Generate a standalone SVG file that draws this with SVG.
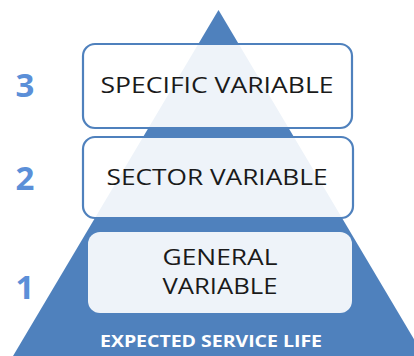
<svg xmlns="http://www.w3.org/2000/svg" width="414" height="356" viewBox="0 0 414 356">
<style>
.box{fill:#ffffff;fill-opacity:0.9;stroke:#4f81bd;stroke-width:2.2}
.box1{fill:#ffffff;fill-opacity:0.9;stroke:none}
.lbl{font-family:"Open Sans","Liberation Sans",sans-serif;font-size:22px;fill:#1a1a1a;text-anchor:middle}
.num{font-family:"Open Sans","Liberation Sans",sans-serif;font-size:33px;font-weight:bold;fill:#5b8fd8;text-anchor:middle}
</style>
<rect width="414" height="356" fill="#ffffff"/>
<g id="pyramid">
<polygon points="218.5,10 13,356 424,356" fill="#4f81bd"/>
<text x="211" y="347" font-family="'Open Sans','Liberation Sans',sans-serif" font-size="16" font-weight="bold" fill="#ffffff" text-anchor="middle" textLength="222" lengthAdjust="spacingAndGlyphs">EXPECTED SERVICE LIFE</text>
</g>
<g id="level3">
<rect class="box" x="83" y="44" width="269" height="84" rx="12"/>
<text class="lbl" x="217" y="93" textLength="233" lengthAdjust="spacingAndGlyphs">SPECIFIC VARIABLE</text>
<text class="num" x="25" y="97">3</text>
</g>
<g id="level2">
<rect class="box" x="83" y="137" width="270" height="81" rx="12"/>
<text class="lbl" x="217" y="185" textLength="221" lengthAdjust="spacingAndGlyphs">SECTOR VARIABLE</text>
<text class="num" x="25" y="190">2</text>
</g>
<g id="level1">
<rect class="box1" x="88" y="232" width="264" height="81" rx="12"/>
<text class="lbl" x="220" y="265" textLength="115" lengthAdjust="spacingAndGlyphs">GENERAL</text>
<text class="lbl" x="220" y="294" textLength="115" lengthAdjust="spacingAndGlyphs">VARIABLE</text>
<text class="num" x="25" y="299">1</text>
</g>
<g id="connectors"></g>
</svg>
